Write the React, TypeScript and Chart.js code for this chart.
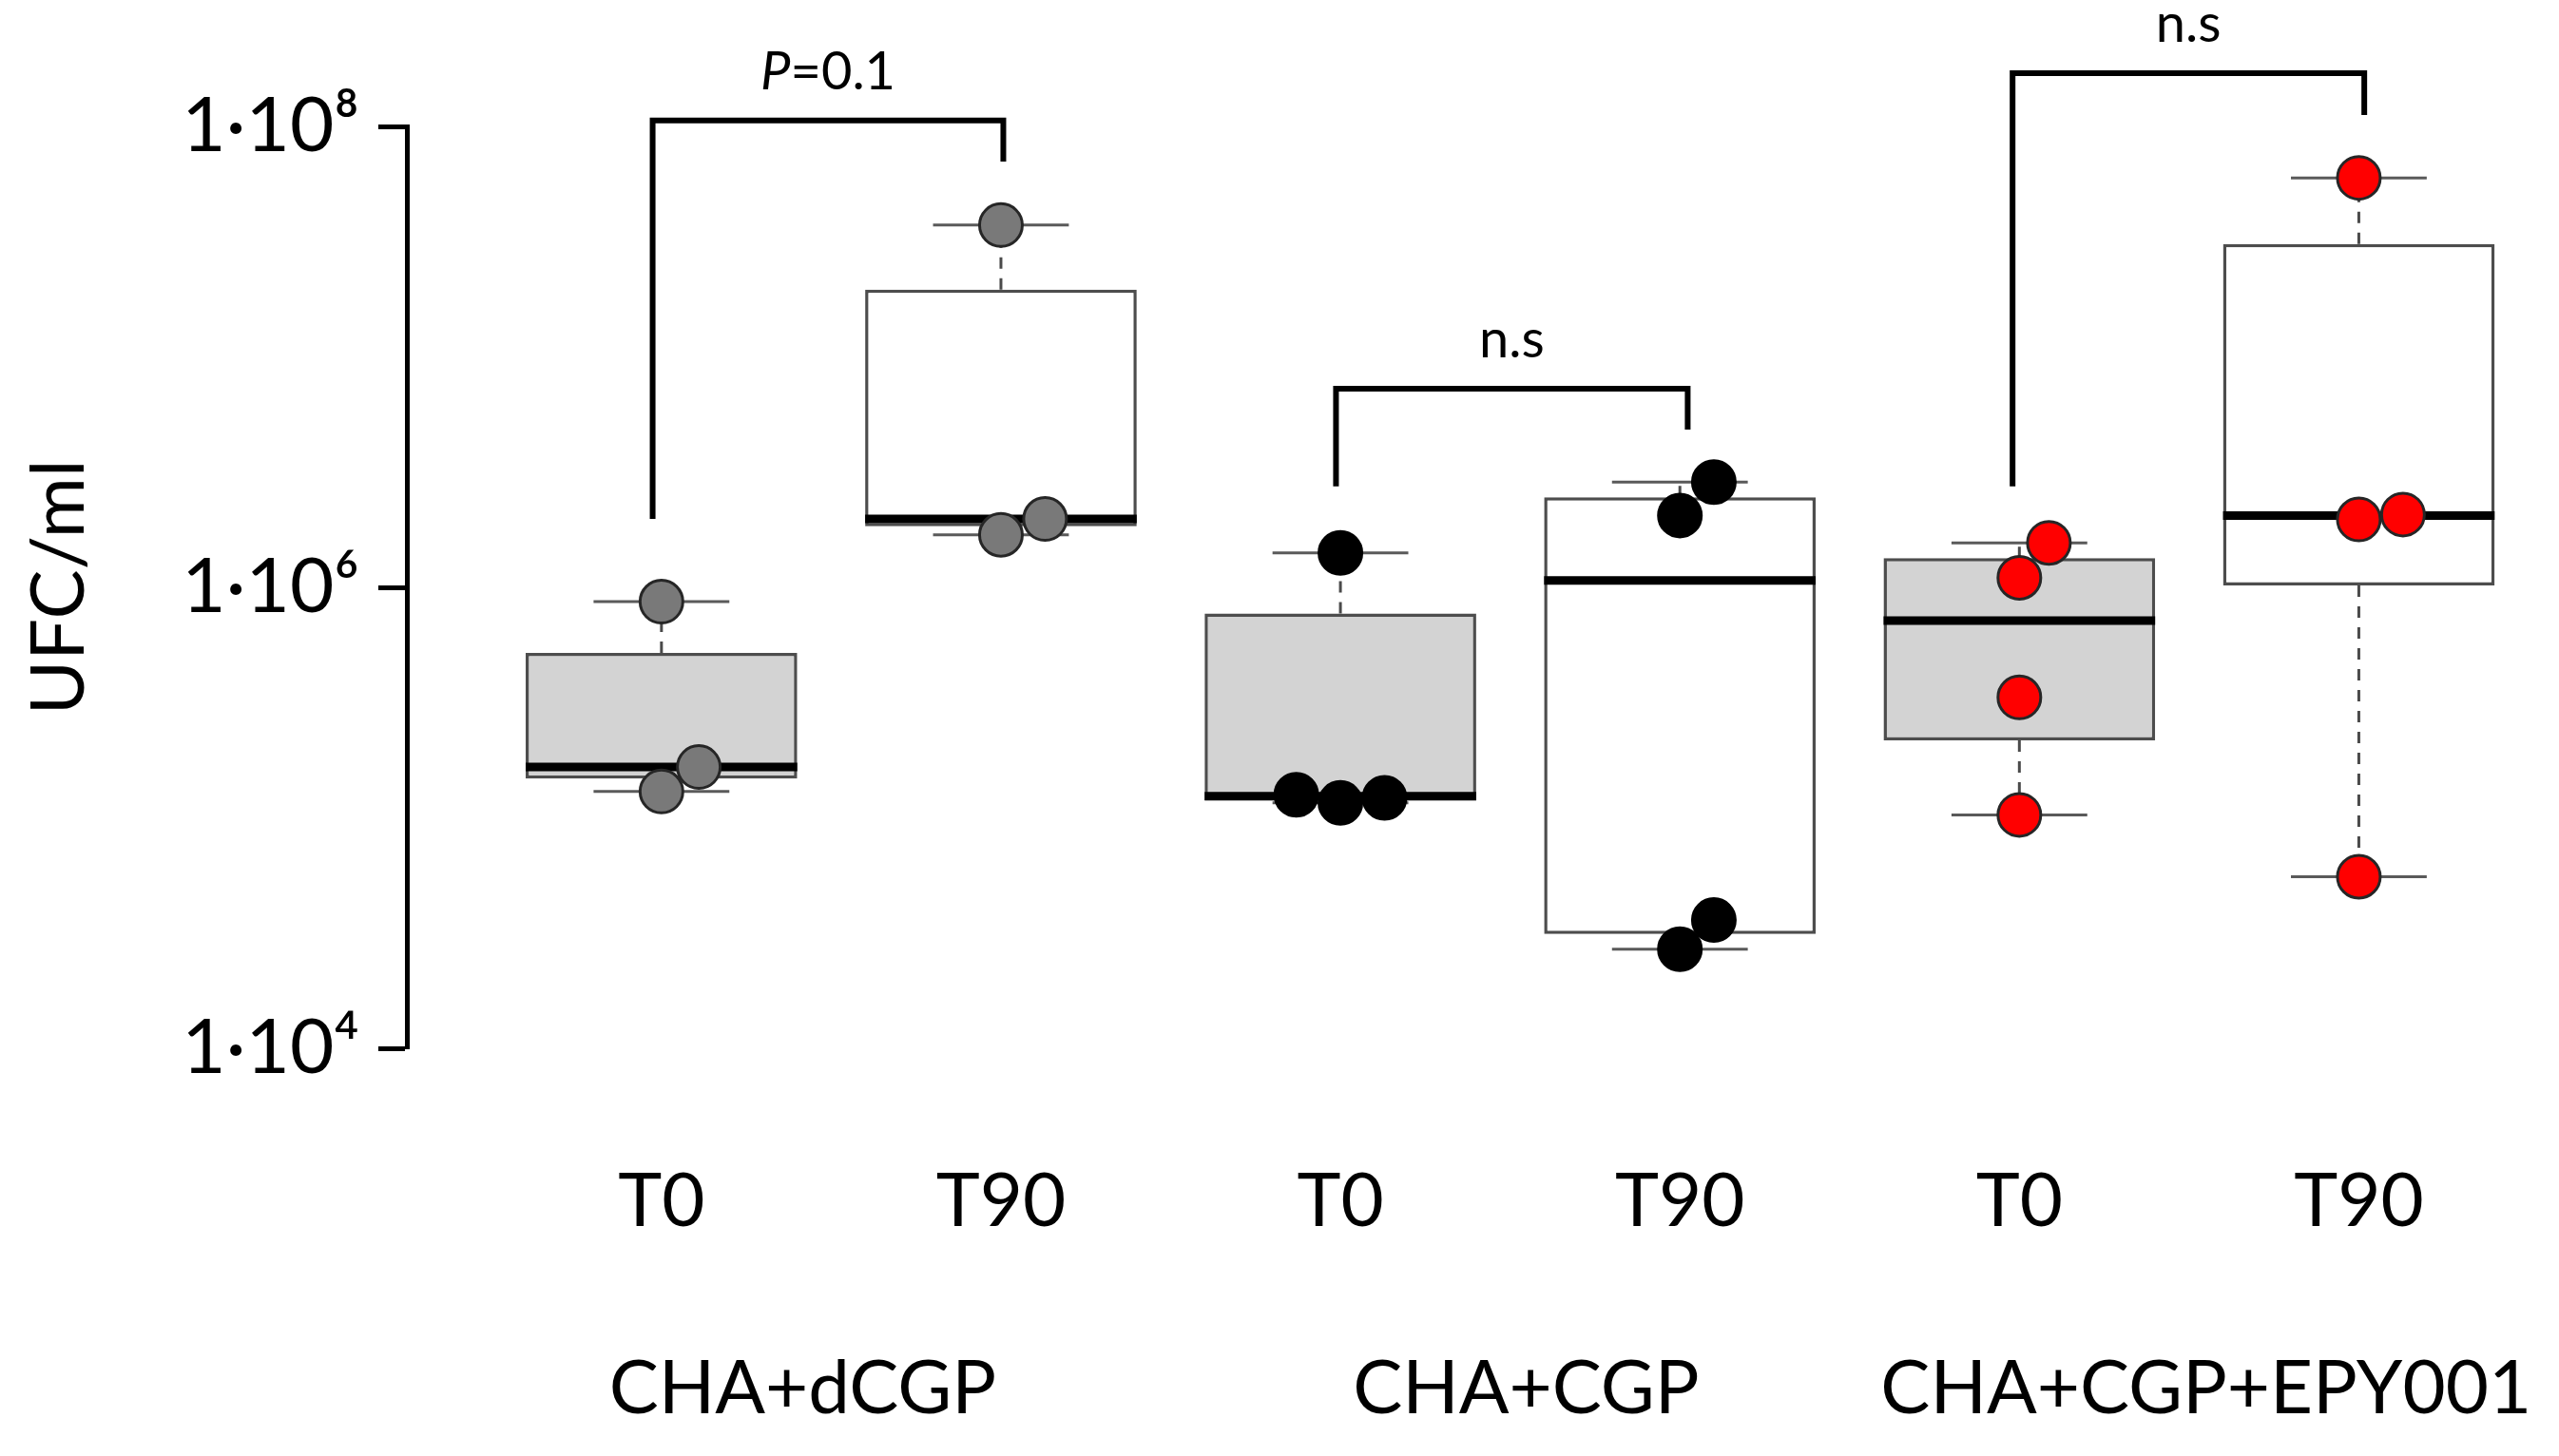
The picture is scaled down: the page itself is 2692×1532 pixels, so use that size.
import React, { useEffect, useRef } from "react";
import { Chart, registerables } from "chart.js";

Chart.register(...registerables);

const W = 2692;
const H = 1532;
const FONT = "Lato";

// ---- data ----
const timeLabels = ["T0", "T90", "T0", "T90", "T0", "T90"];
const groupLabels = ["CHA+dCGP", "CHA+CGP", "CHA+CGP+EPY001"];
const boxGroup = [0, 0, 1, 1, 2, 2];

const yTickValues = [1e4, 1e6, 1e8];
const yTickLabels = ["1·10⁴", "1·10⁶", "1·10⁸"];

// box statistics (UFC/ml)
const whiskerLow = [1.3e5, 1.69e6, 1.16e5, 2.69e4, 1.03e5, 5.55e4];
const q1 = [1.48e5, 1.84e6, 1.19e5, 3.13e4, 2.17e5, 1.02e6];
const median = [1.66e5, 1.98e6, 1.24e5, 1.07e6, 7.18e5, 2.05e6];
const q3 = [5.19e5, 1.96e7, 7.71e5, 2.46e6, 1.34e6, 3.09e7];
const whiskerHigh = [8.67e5, 3.73e7, 1.41e6, 2.86e6, 1.56e6, 5.98e7];

// individual observations and their horizontal jitter (category units)
const pointValues = [
  [8.67e5, 1.66e5, 1.3e5],
  [3.73e7, 1.98e6, 1.69e6],
  [1.41e6, 1.26e5, 1.16e5, 1.22e5],
  [2.86e6, 2.05e6, 3.6e4, 2.69e4],
  [1.56e6, 1.1e6, 3.33e5, 1.03e5],
  [5.98e7, 1.97e6, 2.07e6, 5.55e4],
];
const pointJitter = [
  [0, 0.11, 0],
  [0, 0.13, 0],
  [0, -0.13, 0, 0.13],
  [0.1, 0, 0.1, 0],
  [0.087, 0, 0, 0],
  [0, 0, 0.13, 0],
];

// significance brackets
const bracketFrom = [0.974, 2.987, 4.98];
const bracketTo = [2.007, 4.023, 6.016];
const bracketTop = [1.06e8, 7.28e6, 1.7e8];
const bracketLeftEnd = [1.98e6, 2.74e6, 2.74e6];
const bracketRightEnd = [7.03e7, 4.84e6, 1.12e8];
const bracketItalic = ["P", "", ""];
const bracketText = ["=0.1", "n.s", "n.s"];

// ---- styles ----
const boxFill = ["#d3d3d3", "#ffffff", "#d3d3d3", "#ffffff", "#d3d3d3", "#ffffff"];
const groupPointFill = ["#797979", "#000000", "#ff0000"];
const groupPointStroke = ["#262626", "#000000", "#262626"];
const groupLabelX = [1.416, 3.547, 5.55];

type P = { x: number; y: number | null };
const segments = (list: number[][]): P[] =>
  list.flatMap(([x1, y1, x2, y2]) => [
    { x: x1, y: y1 },
    { x: x2, y: y2 },
    { x: x2, y: null },
  ]);

const centers = timeLabels.map((_, i) => i + 1);

const lineBase = {
  type: "line" as const,
  pointRadius: 0,
  pointHoverRadius: 0,
  fill: false,
  spanGaps: false,
  tension: 0,
};

const annotationPlugin = {
  id: "annotations",
  afterDraw(chart: any) {
    const ctx = chart.ctx as CanvasRenderingContext2D;
    const xs = chart.scales.x;
    const ys = chart.scales.y;
    ctx.save();
    ctx.fillStyle = "#000";
    // group labels
    ctx.font = `78px ${FONT}`;
    ctx.textAlign = "center";
    ctx.textBaseline = "alphabetic";
    groupLabels.forEach((t, i) => {
      ctx.fillText(t, xs.getPixelForValue(groupLabelX[i]), ys.bottom + 384);
    });
    // bracket labels
    bracketText.forEach((t, i) => {
      const cx = (xs.getPixelForValue(bracketFrom[i]) + xs.getPixelForValue(bracketTo[i])) / 2;
      const by = ys.getPixelForValue(bracketTop[i]) - 33;
      ctx.font = `italic 56px ${FONT}`;
      const w1 = bracketItalic[i] ? ctx.measureText(bracketItalic[i]).width : 0;
      ctx.font = `56px ${FONT}`;
      const w2 = ctx.measureText(t).width;
      let x = cx - (w1 + w2) / 2;
      ctx.textAlign = "left";
      if (bracketItalic[i]) {
        ctx.font = `italic 56px ${FONT}`;
        ctx.fillText(bracketItalic[i], x, by);
        x += w1;
      }
      ctx.font = `56px ${FONT}`;
      ctx.fillText(t, x, by);
    });
    ctx.restore();
  },
};

export default function App() {
  const ref = useRef<HTMLCanvasElement>(null);

  useEffect(() => {
    document.body.style.margin = "0";
    const canvas = ref.current;
    if (!canvas) return;
    Chart.defaults.font.family = FONT;

    const pointDatasets = groupLabels.map((g, gi) => ({
      type: "scatter" as const,
      label: g,
      order: 0,
      data: pointValues.flatMap((vals, bi) =>
        boxGroup[bi] === gi ? vals.map((v, k) => ({ x: centers[bi] + pointJitter[bi][k], y: v })) : []
      ),
      pointRadius: 22.5,
      pointHoverRadius: 22.5,
      pointBorderWidth: 3,
      pointBackgroundColor: groupPointFill[gi],
      pointBorderColor: groupPointStroke[gi],
      showLine: false,
    }));

    const bracketDatasets = bracketFrom.map((f, i) => ({
      ...lineBase,
      label: "bracket" + i,
      order: 1,
      clip: false,
      borderColor: "#000",
      borderWidth: 6,
      borderJoinStyle: "miter" as const,
      borderCapStyle: "butt" as const,
      data: [
        { x: f, y: bracketLeftEnd[i] },
        { x: f, y: bracketTop[i] },
        { x: bracketTo[i], y: bracketTop[i] },
        { x: bracketTo[i], y: bracketRightEnd[i] },
      ],
    }));

    const medianDataset = {
      ...lineBase,
      label: "median",
      order: 2,
      borderColor: "#000",
      borderWidth: 9,
      borderCapStyle: "butt" as const,
      data: segments(centers.map((c, i) => [c - 0.4, median[i], c + 0.4, median[i]])),
    };

    const capDataset = {
      ...lineBase,
      label: "caps",
      order: 3,
      borderColor: "#5a5a5a",
      borderWidth: 3,
      borderCapStyle: "butt" as const,
      data: segments(
        centers.flatMap((c, i) => [
          [c - 0.2, whiskerHigh[i], c + 0.2, whiskerHigh[i]],
          [c - 0.2, whiskerLow[i], c + 0.2, whiskerLow[i]],
        ])
      ),
    };

    const whiskerDataset = {
      ...lineBase,
      label: "whiskers",
      order: 4,
      borderColor: "#4a4a4a",
      borderWidth: 3,
      borderDash: [12, 10],
      data: segments(
        centers.flatMap((c, i) => [
          [c, q3[i], c, whiskerHigh[i]],
          [c, q1[i], c, whiskerLow[i]],
        ])
      ),
    };

    const boxDataset = {
      type: "bar" as const,
      label: "boxes",
      order: 5,
      data: centers.map((c, i) => ({ x: c, y: [q1[i], q3[i]] })),
      backgroundColor: boxFill,
      borderColor: "#4d4d4d",
      borderWidth: 3.5,
      borderSkipped: false as const,
      barPercentage: 1,
      categoryPercentage: 0.8,
    };

    const chart = new Chart(canvas, {
      type: "bar",
      data: {
        datasets: [
          ...pointDatasets,
          ...bracketDatasets,
          medianDataset,
          capDataset,
          whiskerDataset,
          boxDataset,
        ] as any,
      },
      options: {
        responsive: false,
        animation: false,
        devicePixelRatio: 1,
        events: [],
        layout: { padding: { top: 133, right: 32, bottom: 0, left: 0 } },
        plugins: {
          legend: { display: false },
          tooltip: { enabled: false },
        },
        scales: {
          x: {
            type: "linear",
            min: 0.25,
            max: 6.5,
            offset: false,
            afterBuildTicks: (s: any) => {
              s.ticks = centers.map((c) => ({ value: c }));
            },
            afterFit: (s: any) => {
              s.height = H - 1103;
            },
            ticks: {
              autoSkip: false,
              maxRotation: 0,
              minRotation: 0,
              padding: 107,
              color: "#000",
              font: { family: FONT, size: 78 },
              callback: (_v: any, i: number) => timeLabels[i],
            },
            grid: { display: false },
            border: { display: false },
          },
          y: {
            type: "logarithmic",
            min: 1e4,
            max: 1e8,
            afterBuildTicks: (s: any) => {
              s.ticks = yTickValues.map((v) => ({ value: v }));
            },
            afterFit: (s: any) => {
              s.width = 428;
            },
            ticks: {
              autoSkip: false,
              padding: 20,
              color: "#000",
              font: { family: FONT, size: 80 },
              callback: (_v: any, i: number) => yTickLabels[i],
            },
            grid: {
              drawOnChartArea: false,
              drawTicks: true,
              tickLength: 30,
              tickWidth: 5,
              tickColor: "#000",
            },
            border: { display: true, color: "#000", width: 5 },
            title: {
              display: true,
              text: "UFC/ml",
              color: "#000",
              font: { family: FONT, size: 78 },
              padding: { top: 16, bottom: 0 },
            },
          },
        },
      } as any,
      plugins: [annotationPlugin],
    });

    return () => chart.destroy();
  }, []);

  return (
    <div style={{ width: W, height: H }}>
      <canvas ref={ref} width={W} height={H} style={{ display: "block", width: W, height: H }} />
    </div>
  );
}
